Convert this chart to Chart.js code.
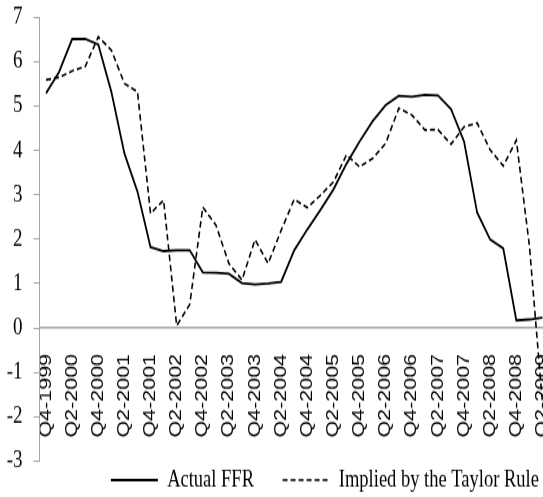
<!DOCTYPE html>
<html>
<head>
<meta charset="utf-8">
<script src="https://cdn.jsdelivr.net/npm/chart.js@4.4.1/dist/chart.umd.min.js"></script>
<style>
  html, body { margin: 0; padding: 0; background: #fff; overflow: hidden; }
</style>
</head>
<body>
<!-- drawn at 549x382 and shown taller, like the stretched original -->
<canvas id="ffrChart" width="549" height="382" style="display:block;width:549px;height:497px"></canvas>
<script>
const quarters = [
  "Q4-1999",
  "Q1-2000", "Q2-2000", "Q3-2000", "Q4-2000",
  "Q1-2001", "Q2-2001", "Q3-2001", "Q4-2001",
  "Q1-2002", "Q2-2002", "Q3-2002", "Q4-2002",
  "Q1-2003", "Q2-2003", "Q3-2003", "Q4-2003",
  "Q1-2004", "Q2-2004", "Q3-2004", "Q4-2004",
  "Q1-2005", "Q2-2005", "Q3-2005", "Q4-2005",
  "Q1-2006", "Q2-2006", "Q3-2006", "Q4-2006",
  "Q1-2007", "Q2-2007", "Q3-2007", "Q4-2007",
  "Q1-2008", "Q2-2008", "Q3-2008", "Q4-2008",
  "Q1-2009", "Q2-2009"
];

const actualFFR = [
  5.29, 5.77, 6.51, 6.51, 6.39, 5.32, 3.93, 3.07, 1.82, 1.73,
  1.75, 1.75, 1.25, 1.24, 1.22, 1.01, 0.98, 1.00, 1.04, 1.75,
  2.22, 2.66, 3.12, 3.70, 4.20, 4.66, 5.02, 5.23, 5.21, 5.25,
  5.24, 4.93, 4.20, 2.60, 1.99, 1.79, 0.17, 0.19, 0.23
];

const taylorRule = [
  5.59, 5.65, 5.79, 5.89, 6.56, 6.26, 5.51, 5.32, 2.58, 2.88,
  0.05, 0.53, 2.72, 2.32, 1.45, 1.08, 1.99, 1.45, 2.20, 2.90,
  2.71, 2.99, 3.29, 3.90, 3.63, 3.82, 4.16, 4.95, 4.80, 4.46,
  4.47, 4.14, 4.53, 4.62, 4.01, 3.65, 4.23, 1.85, -1.70
];

// only every second quarter gets a label on the axis
const shownTicks = quarters.filter(function (q, i) { return i % 2 === 0; });

const yMin = -3;
const yMax = 7;

const axisGray = "#a6a6a6";

const ctx = document.getElementById("ffrChart");
const ffrChart = new Chart(ctx, {
  type: "line",
  data: {
    labels: quarters,
    datasets: [
      {
        label: "Actual FFR",
        data: actualFFR,
        borderColor: "#000",
        backgroundColor: "#000",
        borderWidth: 1.8,
        pointRadius: 0,
        tension: 0,
      },
      {
        label: "Implied by the Taylor Rule",
        data: taylorRule,
        borderColor: "#000",
        backgroundColor: "#000",
        borderWidth: 1.6,
        borderDash: [5, 3],
        pointRadius: 0,
        tension: 0,
      },
    ],
  },
  options: {
    responsive: false,
    devicePixelRatio: 1,
    animation: false,
    events: [],
    layout: {
      // legend keeps 10px of empty space under it, let that fall off the canvas
      padding: { top: 13.3, left: 0, right: 0, bottom: -6.25 },
    },
    plugins: {
      tooltip: {
        enabled: false,
      },
      legend: {
        position: "bottom",
        align: "end",
        labels: {
          usePointStyle: true,
          pointStyle: "line",
          pointStyleWidth: 47,
          padding: 5.45,
          color: "#000",
          font: { family: "Liberation Serif", size: 18.5 },
          generateLabels: function (chart) {
            var items = Chart.defaults.plugins.legend.labels.generateLabels(chart);
            items.forEach(function (item, i) {
              var ds = chart.data.datasets[i];
              item.lineDash = ds.borderDash || [];
              item.lineWidth = ds.borderWidth;
              item.strokeStyle = ds.borderColor;
            });
            // spacing between the two entries
            items[0].text += "     ";
            items[1].text += " ";
            return items;
          },
        },
      },
    },
    scales: {
      x: {
        position: { y: 0 },
        offset: true,
        grid: {
          display: false,
          drawTicks: false,
        },
        border: {
          display: true,
          color: axisGray,
          width: 1.5,
        },
        ticks: {
          autoSkip: false,
          minRotation: 90,
          maxRotation: 90,
          padding: 20,
          color: "#000",
          font: { family: "Liberation Sans", size: 16.5 },
          callback: function (value) {
            var q = this.getLabelForValue(value);
            return shownTicks.includes(q) ? q : "";
          },
        },
        afterFit: function (scale) {
          scale.paddingLeft = 0;
          scale.paddingRight = 0;
        },
      },
      y: {
        min: yMin,
        max: yMax,
        grid: {
          drawOnChartArea: false,
          drawTicks: true,
          tickLength: 6,
          color: axisGray,
          lineWidth: 1,
        },
        border: {
          display: true,
          color: axisGray,
          width: 1,
        },
        ticks: {
          stepSize: 1,
          padding: 11,
          color: "#000",
          font: { family: "Liberation Serif", size: 19 },
        },
        afterFit: function (scale) {
          scale.width = 39.5;
          scale.paddingTop = 0;
          scale.paddingBottom = 0;
        },
      },
    },
  },
});
</script>
</body>
</html>
